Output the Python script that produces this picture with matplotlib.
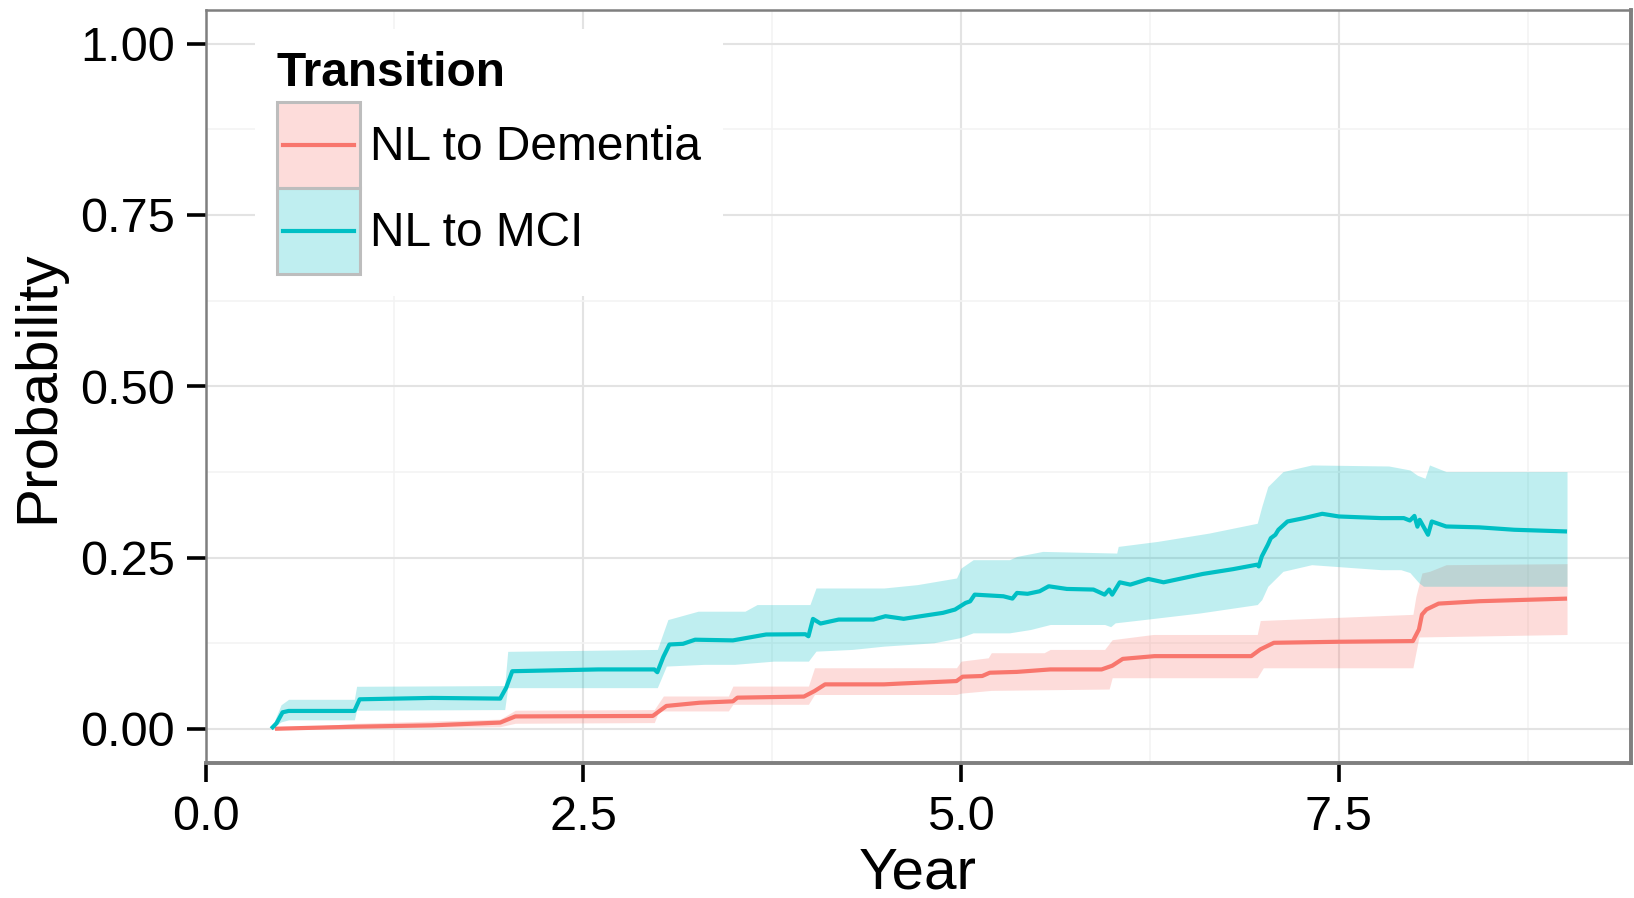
import numpy as np
import matplotlib
matplotlib.use("Agg")
import matplotlib.pyplot as plt
from matplotlib.lines import Line2D
from matplotlib.patches import Rectangle
from matplotlib.ticker import MultipleLocator

plt.rcParams['font.family'] = ['Liberation Sans', 'DejaVu Sans']

# ---- cumulative transition probability (estimate) ----
mci_x = [0.435, 0.47, 0.51, 0.55, 0.985, 1.02, 1.50, 1.95, 1.99, 2.03, 2.60, 2.97,
         2.99, 3.03, 3.07, 3.16, 3.24, 3.49, 3.71, 3.97, 3.99, 4.02, 4.07, 4.19,
         4.42, 4.50, 4.62, 4.88, 4.96, 5.03, 5.06, 5.09, 5.28, 5.34, 5.37, 5.44,
         5.52, 5.58, 5.70, 5.876, 5.95, 5.98, 6.00, 6.05, 6.12, 6.24, 6.34, 6.60,
         6.80, 6.958, 6.97, 6.99, 7.03, 7.05, 7.08, 7.10, 7.16, 7.27, 7.39, 7.50,
         7.78, 7.93, 7.97, 8.00, 8.02, 8.035, 8.09, 8.115, 8.21, 8.43, 8.66, 9.01]
mci_y = [0.0, 0.008, 0.024, 0.026, 0.026, 0.043, 0.045, 0.044, 0.060, 0.084, 0.0866, 0.0866,
         0.0825, 0.105, 0.123, 0.124, 0.130, 0.129, 0.1376, 0.138, 0.135, 0.1604, 0.1536, 0.1594,
         0.1594, 0.1643, 0.1605, 0.1692, 0.174, 0.1837, 0.186, 0.1958, 0.1934, 0.190, 0.1983, 0.197,
         0.2007, 0.208, 0.2041, 0.2032, 0.1958, 0.2032, 0.1958, 0.2138, 0.2104, 0.2187, 0.2138, 0.226,
         0.233, 0.2395, 0.237, 0.2516, 0.2686, 0.2783, 0.2832, 0.2905, 0.3026, 0.3075, 0.3138, 0.3099,
         0.3075, 0.3075, 0.304, 0.3107, 0.295, 0.305, 0.2832, 0.3026, 0.2953, 0.294, 0.2905, 0.288]

# confidence band (lower / upper)
mci_lo_x = [0.435, 0.50, 0.55, 0.985, 1.00, 1.98, 2.00, 2.99, 3.05, 3.30, 3.50, 3.76,
            3.99, 4.04, 4.28, 4.49, 4.82, 4.99, 5.08, 5.32, 5.46, 5.59, 5.95, 5.99,
            6.02, 6.21, 6.58, 6.96, 6.99, 7.03, 7.13, 7.32, 7.78, 7.91, 7.97, 8.03,
            8.06, 9.01]
mci_lo_y = [0.0, 0.010, 0.013, 0.013, 0.027, 0.028, 0.060, 0.060, 0.0915, 0.094, 0.094, 0.0987,
            0.0987, 0.1133, 0.1158, 0.1206, 0.1255, 0.1328, 0.140, 0.140, 0.1449, 0.1522, 0.1522, 0.149,
            0.1546, 0.1594, 0.169, 0.1813, 0.1886, 0.208, 0.2298, 0.2395, 0.2322, 0.2322, 0.228, 0.2129,
            0.208, 0.208]
mci_hi_x = [0.435, 0.50, 0.55, 0.985, 1.00, 1.98, 2.00, 2.99, 3.06, 3.26, 3.57, 3.65,
            4.00, 4.04, 4.49, 4.71, 4.97, 5.00, 5.08, 5.32, 5.37, 5.54, 6.03, 6.04,
            6.30, 6.64, 6.96, 6.99, 7.03, 7.13, 7.32, 7.83, 7.97, 8.02, 8.07, 8.10,
            8.21, 9.01]
mci_hi_y = [0.0, 0.035, 0.043, 0.043, 0.062, 0.063, 0.113, 0.1158, 0.1594, 0.1716, 0.1716, 0.1813,
            0.1813, 0.2055, 0.2055, 0.2104, 0.2201, 0.2347, 0.2468, 0.2468, 0.2516, 0.2589, 0.2565, 0.2662,
            0.2735, 0.2856, 0.300, 0.3245, 0.3536, 0.3754, 0.3851, 0.3836, 0.3778, 0.370, 0.3657, 0.3851,
            0.3754, 0.3754]

dem_x = [0.46, 0.99, 1.50, 1.95, 2.05, 2.96, 3.05, 3.27, 3.49, 3.52, 3.96, 4.03,
         4.10, 4.49, 4.60, 4.97, 5.01, 5.14, 5.19, 5.37, 5.59, 5.93, 6.00, 6.07,
         6.28, 6.92, 6.98, 7.07, 7.50, 7.99, 8.03, 8.05, 8.08, 8.16, 8.43, 9.01]
dem_y = [0.0, 0.003, 0.005, 0.009, 0.018, 0.0187, 0.0333, 0.038, 0.040, 0.0454, 0.047, 0.055,
         0.0648, 0.0648, 0.066, 0.0696, 0.076, 0.077, 0.0818, 0.083, 0.0866, 0.0866, 0.092, 0.102,
         0.106, 0.106, 0.1158, 0.1255, 0.127, 0.128, 0.145, 0.1667, 0.1742, 0.1827, 0.1862, 0.190]

dem_lo_x = [0.46, 1.00, 1.95, 2.05, 2.97, 3.00, 3.46, 3.49, 3.99, 4.03, 4.97, 5.00,
            5.20, 5.98, 6.00, 6.96, 7.00, 7.99, 8.03, 9.01]
dem_lo_y = [0.0, 0.001, 0.003, 0.008, 0.009, 0.026, 0.026, 0.0357, 0.0357, 0.050, 0.050, 0.052,
            0.056, 0.058, 0.0745, 0.0745, 0.089, 0.089, 0.134, 0.1376]
dem_hi_x = [0.46, 1.00, 1.95, 2.05, 2.97, 3.03, 3.46, 3.49, 3.99, 4.03, 4.97, 5.00,
            5.18, 5.20, 5.55, 5.59, 5.95, 6.00, 6.27, 6.96, 6.98, 7.99, 8.01, 8.05,
            8.10, 8.21, 9.01]
dem_hi_y = [0.0, 0.008, 0.014, 0.027, 0.028, 0.0478, 0.0478, 0.0623, 0.0623, 0.089, 0.0891, 0.0987,
            0.1036, 0.111, 0.111, 0.1158, 0.1158, 0.130, 0.1376, 0.1376, 0.158, 0.167, 0.1934, 0.2274,
            0.2298, 0.2395, 0.241]

labels = ["NL to Dementia", "NL to MCI"]
colors = ["#F8766D", "#00BFC4"]
fill_alpha = 0.25

x_ticks = [0.0, 2.5, 5.0, 7.5]
y_ticks = [0.00, 0.25, 0.50, 0.75, 1.00]


def band(x_lo, y_lo, x_hi, y_hi, x):
    return np.interp(x, x_lo, y_lo), np.interp(x, x_hi, y_hi)


W, H, DPI = 1634, 898, 100
LINE_W = 3.0
fig = plt.figure(figsize=(W / DPI, H / DPI), dpi=DPI, facecolor="white")
ax = fig.add_axes([205.5 / W, 1 - 763 / H, (1630.5 - 205.5) / W, (763 - 9.5) / H])
ax.set_facecolor("white")

# grid
ax.xaxis.set_minor_locator(MultipleLocator(1.25))
ax.yaxis.set_minor_locator(MultipleLocator(0.125))
ax.grid(which="major", color="#E3E3E3", linewidth=1.5, zorder=0)
ax.grid(which="minor", color="#F3F3F3", linewidth=1.2, zorder=0)
ax.set_axisbelow(True)

series = [
    (dem_x, dem_y, dem_lo_x, dem_lo_y, dem_hi_x, dem_hi_y),
    (mci_x, mci_y, mci_lo_x, mci_lo_y, mci_hi_x, mci_hi_y),
]
for (sx, sy, lx, ly, hx, hy), col in zip(series, colors):
    grid_x = np.unique(np.concatenate([lx, hx]))
    lo, hi = band(lx, ly, hx, hy, grid_x)
    ax.fill_between(grid_x, lo, hi, color=col, alpha=fill_alpha, linewidth=0, zorder=2)
for (sx, sy, *_), col in zip(series, colors):
    ax.plot(sx, sy, color=col, linewidth=LINE_W, solid_joinstyle="round",
            solid_capstyle="butt", zorder=3)

ax.set_xlim(0.0, 9.43)
ax.set_ylim(-0.05, 1.05)
ax.set_xticks(x_ticks)
ax.set_xticklabels([f"{v:.1f}" for v in x_ticks])
ax.set_yticks(y_ticks)
ax.set_yticklabels([f"{v:.2f}" for v in y_ticks])
ax.tick_params(which="major", length=14, width=2.6, color="black",
               labelsize=35, labelcolor="black")
ax.tick_params(axis="x", pad=9)
ax.tick_params(axis="y", pad=8)
ax.tick_params(which="minor", length=0)

for side, sp in ax.spines.items():
    sp.set_color("#7F7F7F")
    sp.set_linewidth(2.8 if side in ("bottom", "right") else 1.8)
    sp.set_zorder(5)

ax.set_xlabel("Year", fontsize=42, labelpad=5)
ax.set_ylabel("Probability", fontsize=42, labelpad=11)


# legend: translucent key with coloured line
class KeyHandler:
    def legend_artist(self, legend, orig_handle, fontsize, handlebox):
        x0, y0 = -handlebox.xdescent, -handlebox.ydescent
        w, h = handlebox.width, handlebox.height
        col = orig_handle.get_color()
        tr = handlebox.get_transform()
        face = matplotlib.colors.to_rgba(col, fill_alpha)
        rect = Rectangle((x0, y0), w, h, facecolor=face, edgecolor="#BDBDBD",
                         linewidth=2.2, transform=tr)
        line = Line2D([x0 + 0.08 * w, x0 + 0.92 * w], [y0 + h / 2] * 2,
                      color=col, linewidth=LINE_W, transform=tr)
        handlebox.add_artist(rect)
        handlebox.add_artist(line)
        return rect


handles = [Line2D([], [], color=c) for c in colors]
leg = ax.legend(handles, labels, handler_map={Line2D: KeyHandler()},
                loc="upper left", bbox_to_anchor=((255 - 205.5) / 1425, (763 - 29) / 753.5),
                borderaxespad=0, frameon=True, fancybox=False, framealpha=1,
                facecolor="white", edgecolor="none", fontsize=34.5,
                title="Transition", title_fontproperties={"weight": "bold", "size": 34.5},
                alignment="left", borderpad=0.45, handlelength=1.75, handleheight=2.39,
                labelspacing=0.0, handletextpad=0.2)
# a little room between the legend title and the keys
leg._legend_box.sep = 4.5
leg.set_zorder(6)

fig.savefig("out.png", dpi=DPI, facecolor="white")
